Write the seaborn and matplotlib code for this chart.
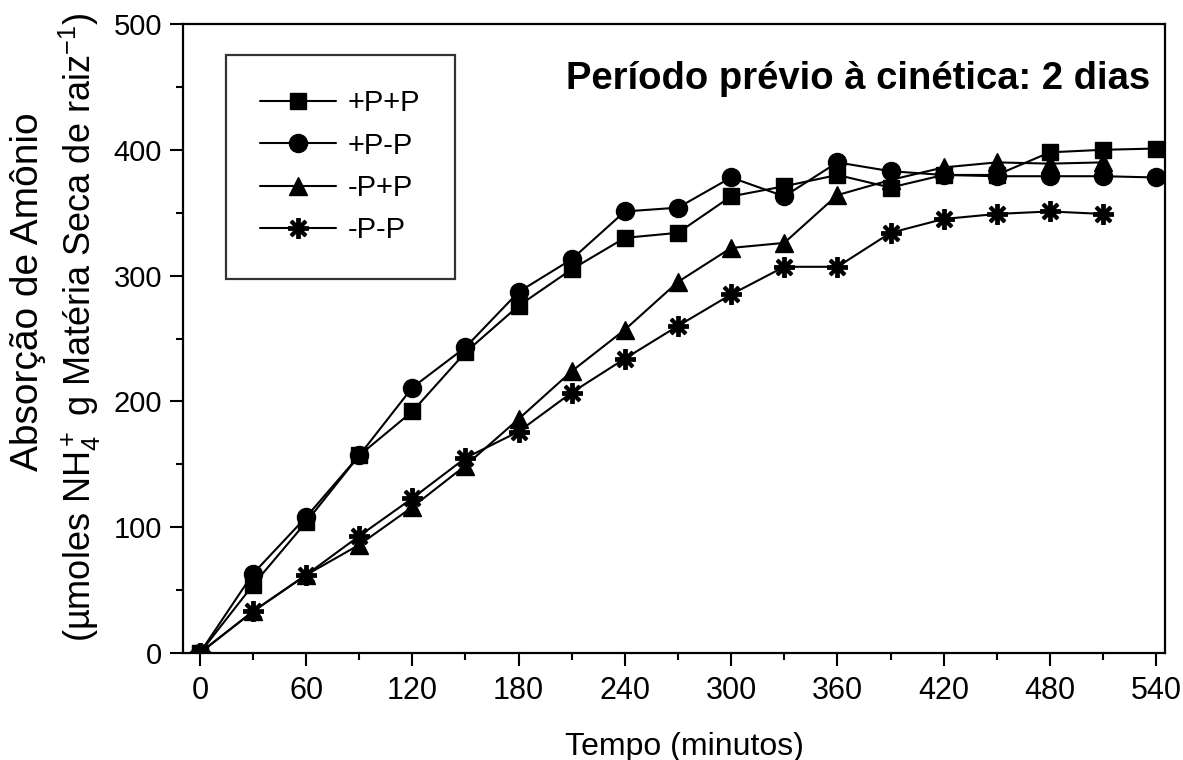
import numpy as np
import pandas as pd
import seaborn as sns
import matplotlib
matplotlib.use("Agg")
import matplotlib.pyplot as plt
from matplotlib.ticker import MultipleLocator
from matplotlib.lines import Line2D

# ---- data ----
tempo = [0, 30, 60, 90, 120, 150, 180, 210, 240, 270, 300, 330, 360, 390, 420, 450, 480, 510, 540]
pp_pp = [0, 54, 104, 157, 192, 239, 276, 305, 330, 334, 363, 371, 380, 370, 380, 380, 398, 400, 401]
pp_mp = [0, 63, 108, 157, 211, 243, 287, 313, 351, 354, 378, 363, 390, 383, 380, 379, 379, 379, 378]
mp_pp = [0, 33, 62, 86, 116, 149, 186, 224, 257, 295, 322, 326, 364, 376, 386, 390, 389, 390, None]
mp_mp = [0, 33, 62, 93, 123, 155, 176, 207, 234, 260, 285, 307, 307, 334, 345, 349, 351, 349, None]
series_names = ["+P+P", "+P-P", "-P+P", "-P-P"]
x_ticks = [0, 60, 120, 180, 240, 300, 360, 420, 480, 540]
y_ticks = [0, 100, 200, 300, 400, 500]
title_text = "Período prévio à cinética: 2 dias"
xlabel_text = "Tempo (minutos)"
ylabel_line1 = "Absorção de Amônio"
ylabel_line2 = "(µmoles NH$_4^+$ g Matéria Seca de raiz$^{-1}$)"

rows = []
for name, vals in zip(series_names, [pp_pp, pp_mp, mp_pp, mp_mp]):
    for t, v in zip(tempo, vals):
        if v is not None:
            rows.append({"Tempo": t, "Valor": v, "Trat": name})
df = pd.DataFrame(rows)

sns.set_theme(style="white")
plt.rcParams["font.family"] = ["Liberation Sans", "DejaVu Sans"]
plt.rcParams["mathtext.fontset"] = "custom"
plt.rcParams["mathtext.rm"] = "Liberation Sans"
plt.rcParams["mathtext.it"] = "Liberation Sans"
plt.rcParams["mathtext.default"] = "rm"

W, H = 1183, 760
fig = plt.figure(figsize=(W / 100, H / 100), dpi=100)
ax_l, ax_r, ax_t, ax_b = 183, 1165, 24, 653
ax = fig.add_axes([ax_l / W, 1 - ax_b / H, (ax_r - ax_l) / W, (ax_b - ax_t) / H])

star = (8, 2, 0)
markers = {"+P+P": "s", "+P-P": "o", "-P+P": "^", "-P-P": star}
msize = {"+P+P": 12, "+P-P": 13, "-P+P": 13, "-P-P": 15}
mew = {"+P+P": 1, "+P-P": 1, "-P+P": 1, "-P-P": 2.8}
for name in series_names:
    sub = df[df["Trat"] == name]
    sns.lineplot(data=sub, x="Tempo", y="Valor", ax=ax, color="black",
                 linewidth=1.5, marker=markers[name], markersize=msize[name],
                 markeredgewidth=mew[name],
                 markeredgecolor="black", markerfacecolor="black",
                 legend=False, estimator=None)

ax.set_xlim(-9.5, 545)
ax.set_ylim(0, 500)
ax.set_xticks(x_ticks)
ax.set_yticks(y_ticks)
ax.xaxis.set_minor_locator(MultipleLocator(30))
ax.yaxis.set_minor_locator(MultipleLocator(50))
ax.tick_params(axis="both", which="major", direction="out", length=9.5, width=1.5,
               color="black", bottom=True, left=True, top=False, right=False,
               labelcolor="black")
ax.tick_params(axis="both", which="minor", direction="out", length=5, width=1.5,
               color="black", bottom=True, left=True, top=False, right=False)
ax.tick_params(axis="x", which="major", pad=7, labelsize=22)
ax.tick_params(axis="y", which="major", pad=5.5, labelsize=21)
for s in ax.spines.values():
    s.set_visible(True)
    s.set_color("black")
    s.set_linewidth(1.6)
ax.set_xlabel("")
ax.set_ylabel("")

fig.text(684 / W, 1 - 755 / H, xlabel_text, ha="center", va="baseline",
         fontsize=23, color="black")
fig.text(28 / W, 1 - 292 / H, ylabel_line1, rotation=90, ha="center", va="center",
         fontsize=28, color="black")
fig.text(80 / W, 1 - 327 / H, ylabel_line2, rotation=90, ha="center", va="center",
         fontsize=26, color="black")

ax.text(0.985, 0.912, title_text, transform=ax.transAxes, ha="right", va="center",
        fontsize=27.5, fontweight="bold", color="black")

handles = []
for name in series_names:
    handles.append(Line2D([0], [0], color="black", linewidth=1.5, marker=markers[name],
                          markersize=msize[name], markerfacecolor="black",
                          markeredgecolor="black", markeredgewidth=mew[name]))
leg = ax.legend(handles, series_names, loc="upper left",
                bbox_to_anchor=((226 - ax_l) / (ax_r - ax_l), (ax_b - 55) / (ax_b - ax_t)),
                frameon=True, fancybox=False, edgecolor="black", fontsize=21,
                handlelength=2.6, handletextpad=0.4, labelspacing=0.49,
                borderpad=1.18, borderaxespad=0)
leg.get_frame().set_linewidth(1.6)
for t in leg.get_texts():
    t.set_color("black")

fig.savefig("out.png", dpi=100, facecolor="white")
